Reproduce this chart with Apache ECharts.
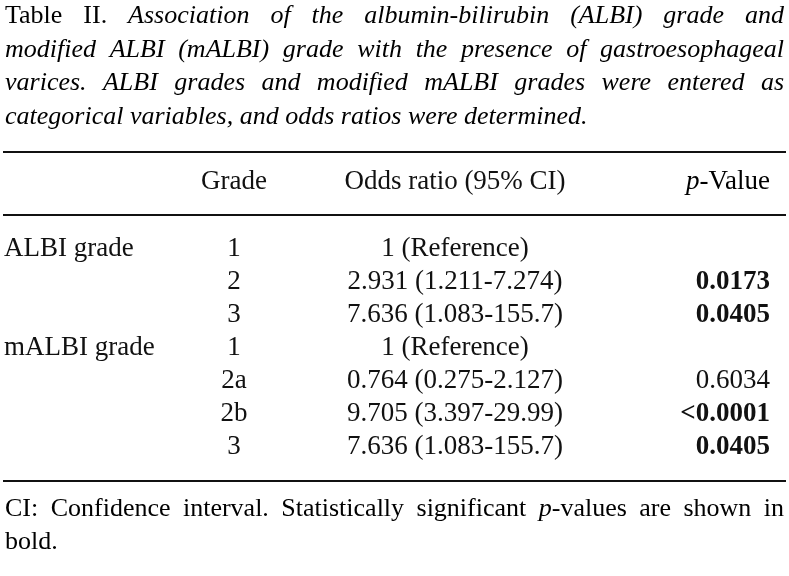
<!DOCTYPE html>
<html>
<head>
<meta charset="utf-8">
<script src="https://cdn.jsdelivr.net/npm/echarts@6/dist/echarts.min.js"></script>
<style>
html,body{margin:0;padding:0;background:#fff;}
#main{width:789px;height:576px;}
</style>
</head>
<body>
<div id="main"></div>
<script>
// ---- data ----
const titleLines = [
  "Table II. Association of the albumin-bilirubin (ALBI) grade and",
  "modified ALBI (mALBI) grade with the presence of gastroesophageal",
  "varices. ALBI grades and modified mALBI grades were entered as",
  "categorical variables, and odds ratios were determined."
];
const headerLabels = ["", "Grade", "Odds ratio (95% CI)", "p-Value"];
const groupLabels = ["ALBI grade", "", "", "mALBI grade", "", "", ""];
const grades = ["1", "2", "3", "1", "2a", "2b", "3"];
const oddsRatios = [
  "1 (Reference)",
  "2.931 (1.211-7.274)",
  "7.636 (1.083-155.7)",
  "1 (Reference)",
  "0.764 (0.275-2.127)",
  "9.705 (3.397-29.99)",
  "7.636 (1.083-155.7)"
];
const pValues = ["", "0.0173", "0.0405", "", "0.6034", "<0.0001", "0.0405"];
const significant = [false, true, true, false, false, true, true];
const footnoteLines = [
  "CI: Confidence interval. Statistically significant p-values are shown in",
  "bold."
];

// ---- layout ----
const FONT = '"Liberation Serif", "Times New Roman", serif';
const FS = 26;      // title / footnote
const FSB = 27;     // table body / header
const COLOR = '#111';
const X0 = 5, X1 = 784;
const colX = { group: 4, grade: 234, odds: 455, p: 770 };

const cvs = document.createElement('canvas');
const ctx = cvs.getContext('2d');
function segFont(s) {
  return (s.it ? 'italic ' : '') + (s.b ? 'bold ' : '') + FS + 'px ' + FONT;
}
function measureSegs(segs) {
  let w = 0;
  segs.forEach(s => { ctx.font = segFont(s); w += ctx.measureText(s.t).width; });
  return w;
}
function makeRich(size) {
  return {
    n: { fontFamily: FONT, fontSize: size, fontStyle: 'normal', color: COLOR },
    i: { fontFamily: FONT, fontSize: size, fontStyle: 'italic', color: COLOR },
    b: { fontFamily: FONT, fontSize: size, fontWeight: 'bold', color: COLOR }
  };
}
const rich = makeRich(FS);
const richB = makeRich(FSB);
function segsToRich(segs) {
  return segs.map(s => '{' + (s.b ? 'b' : (s.it ? 'i' : 'n')) + '|' + s.t + '}').join('');
}
// words: array of arrays of segments
function lineElements(words, y, justify) {
  const widths = words.map(measureSegs);
  const total = widths.reduce((a, b) => a + b, 0);
  ctx.font = segFont(words[words.length - 1][0]);
  let gap = ctx.measureText(' ').width;
  if (justify && words.length > 1) gap = (X1 - X0 - total) / (words.length - 1);
  let x = X0;
  const els = [];
  words.forEach((w, k) => {
    els.push({
      type: 'text', x: x, y: y,
      style: { text: segsToRich(w), rich: rich, verticalAlign: 'middle', align: 'left' }
    });
    x += widths[k] + gap;
  });
  return els;
}

const graphics = [];
// title
titleLines.forEach((line, li) => {
  const words = line.split(' ').map((w, k) => {
    const upright = li === 0 && k < 2;
    return [{ t: w, it: !upright }];
  });
  graphics.push(...lineElements(words, 16 + li * 33.7, li < titleLines.length - 1));
});
// footnote
footnoteLines.forEach((line, li) => {
  const words = line.split(' ').map(w => {
    if (w.startsWith('p-')) return [{ t: 'p', it: true }, { t: w.slice(1), it: false }];
    return [{ t: w, it: false }];
  });
  graphics.push(...lineElements(words, 509 + li * 33, li < footnoteLines.length - 1));
});
// rules
[152, 215, 481].forEach(y => {
  graphics.push({ type: 'line', shape: { x1: 3, y1: y, x2: 786, y2: y }, style: { stroke: '#111', lineWidth: 2 } });
});
// header
graphics.push({ type: 'text', x: colX.grade, y: 182, style: { text: headerLabels[1], font: FSB + 'px ' + FONT, fill: COLOR, align: 'center', verticalAlign: 'middle' } });
graphics.push({ type: 'text', x: colX.odds, y: 182, style: { text: headerLabels[2], font: FSB + 'px ' + FONT, fill: COLOR, align: 'center', verticalAlign: 'middle' } });
graphics.push({ type: 'text', x: colX.p, y: 182, style: {
  text: '{i|' + headerLabels[3].slice(0, 1) + '}{n|' + headerLabels[3].slice(1) + '}',
  rich: richB, align: 'right', verticalAlign: 'middle' } });

const chart = echarts.init(document.getElementById('main'), null, { renderer: 'canvas' });
chart.setOption({
  backgroundColor: '#fff',
  animation: false,
  grid: { left: 0, right: 0, top: 232.5, bottom: 112.5 },
  xAxis: { type: 'value', min: 0, max: 789, show: false },
  yAxis: { type: 'category', data: grades, inverse: true, show: false },
  graphic: graphics,
  series: [{
    type: 'custom',
    data: grades.map((g, i) => [0, i]),
    encode: { x: 0, y: 1 },
    renderItem: function (params, api) {
      const i = params.dataIndex;
      const y = api.coord([0, i])[1];
      const xs = (v) => api.coord([v, i])[0];
      const base = { fontFamily: FONT, fontSize: FSB, fill: COLOR, verticalAlign: 'middle' };
      const children = [
        { type: 'text', x: xs(colX.group), y: y, style: Object.assign({}, base, { text: groupLabels[i], align: 'left' }) },
        { type: 'text', x: xs(colX.grade), y: y, style: Object.assign({}, base, { text: grades[i], align: 'center' }) },
        { type: 'text', x: xs(colX.odds), y: y, style: Object.assign({}, base, { text: oddsRatios[i], align: 'center' }) },
        { type: 'text', x: xs(colX.p), y: y, style: Object.assign({}, base, { text: pValues[i], align: 'right', fontWeight: significant[i] ? 'bold' : 'normal' }) }
      ];
      return { type: 'group', children: children };
    }
  }]
});
</script>
</body>
</html>
